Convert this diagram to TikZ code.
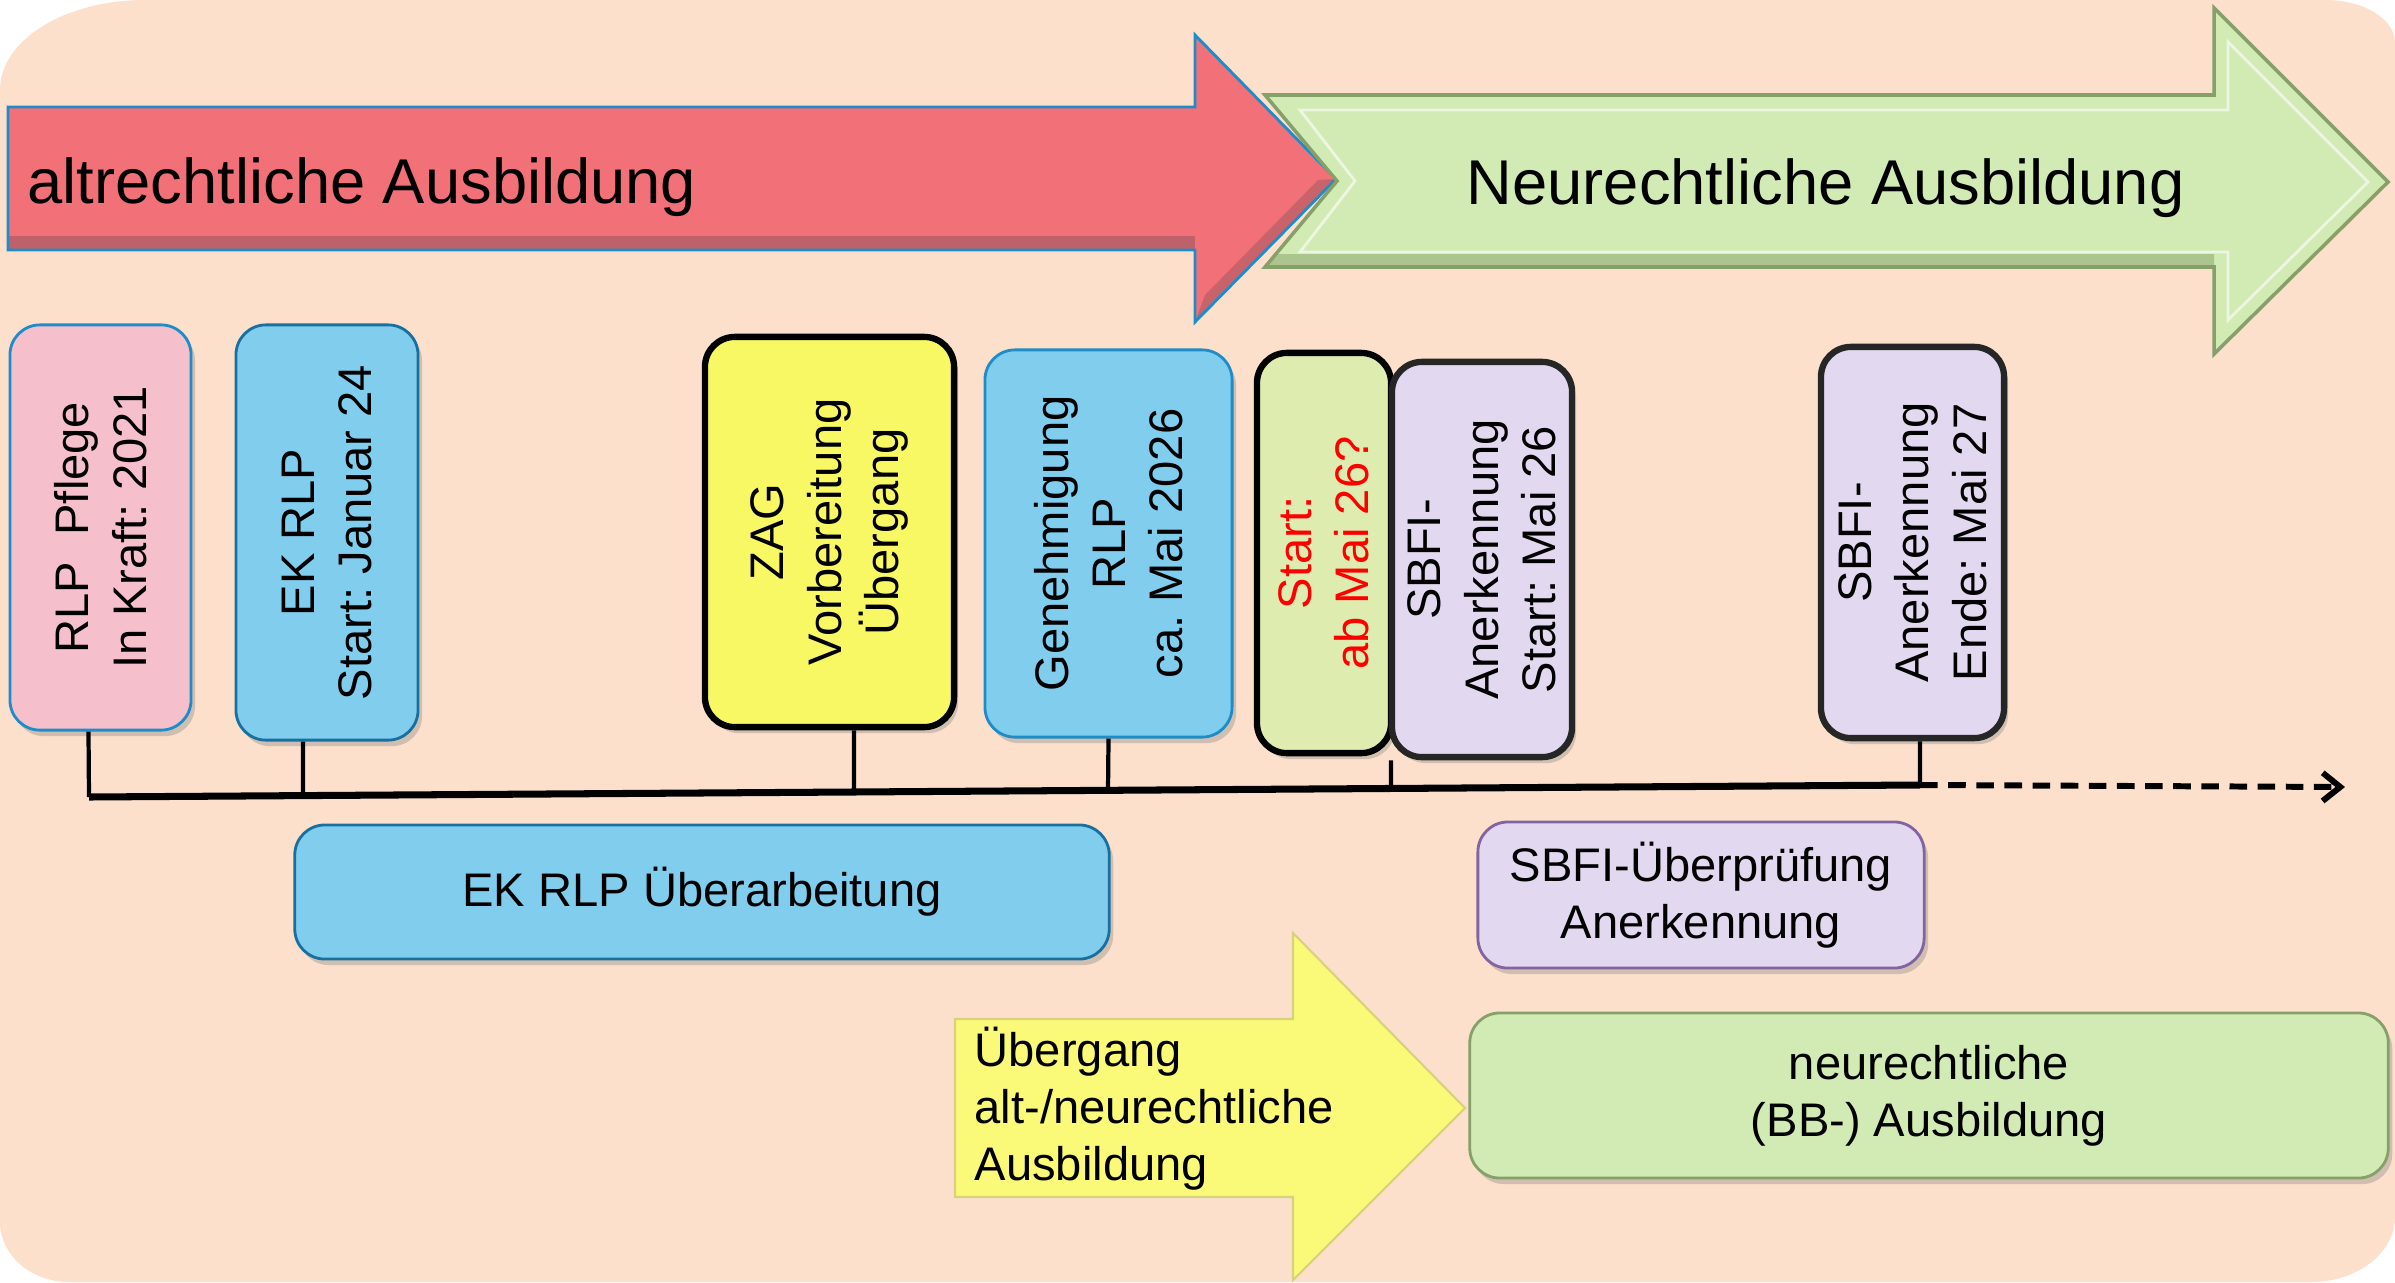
\documentclass[tikz,border=0pt]{standalone}
\usepackage{fontspec}
\setmainfont{Liberation Sans}
\usetikzlibrary{arrows.meta,shadows}
\frenchspacing

\definecolor{peach}{RGB}{252,224,204}
\definecolor{oldred}{RGB}{242,112,120}
\definecolor{oldredd}{RGB}{150,85,95}
\definecolor{newgreen}{RGB}{210,234,180}
\definecolor{newgreend}{RGB}{135,160,105}
\definecolor{boxpink}{RGB}{245,192,204}
\definecolor{boxblue}{RGB}{128,205,238}
\definecolor{boxyellow}{RGB}{248,248,100}
\definecolor{boxlime}{RGB}{222,236,176}
\definecolor{boxlila}{RGB}{226,216,240}
\definecolor{edgeblue}{RGB}{30,140,200}
\definecolor{edgelila}{RGB}{130,100,160}
\definecolor{arrowyellow}{RGB}{250,250,120}

\tikzset{
  txt/.style={font=\fontsize{13.4}{16.3}\selectfont},
  bigtxt/.style={font=\fontsize{18}{22}\selectfont, inner sep=0pt},
  bevel/.style={drop shadow={shadow xshift=0.04cm, shadow yshift=-0.06cm, opacity=0.35}},
  vbox/.style={txt, rectangle, rounded corners=0.3cm, rotate=90, align=center, inner sep=0pt, bevel},
  hbox/.style={txt, rectangle, rounded corners=0.3cm, align=center, inner sep=0pt, bevel},
  thinedge/.style={draw=#1, line width=0.8pt},
  thickedge/.style={draw=#1, line width=1.8pt},
  stem/.style={line width=1.2pt},
  timeline/.style={line width=2pt},
  dashline/.style={line width=1.7pt, dash pattern=on 5pt off 3pt, -{Straight Barb[length=5pt,width=8pt]}},
}

\begin{document}
\begin{tikzpicture}[x=0.01cm, y=-0.01cm]
  \useasboundingbox (0,0) rectangle (2395,1282);
  % background
  \fill[peach] (0,90) .. controls (0,40) and (65,0) .. (145,0) -- (2325,0)
    .. controls (2364,0) and (2395,19) .. (2395,43) -- (2395,1217)
    .. controls (2395,1253) and (2357,1282) .. (2311,1282) -- (69,1282)
    .. controls (31,1282) and (0,1255) .. (0,1222) -- cycle;

  % big arrows
  \fill[oldred] (8,107) -- (1195,107) -- (1195,35) -- (1336,179) -- (1195,322) -- (1195,250) -- (8,250) -- cycle;
  \fill[oldredd, opacity=0.55] (8,236) -- (1195,236) -- (1195,250) -- (8,250) -- cycle;
  \fill[oldredd, opacity=0.45] (1195,322) -- (1336,179) -- (1318,180) -- (1205,295) -- cycle;
  \draw[edgeblue, line width=0.8pt] (8,107) -- (1195,107) -- (1195,35) -- (1336,179) -- (1195,322) -- (1195,250) -- (8,250) -- cycle;
  \node[bigtxt, anchor=base west] (alt) at (27,203) {altrechtliche Ausbildung};

  \fill[newgreen] (1265,95) -- (2214,95) -- (2214,8) -- (2388,182) -- (2214,354) -- (2214,267) -- (1265,267) -- (1337,181) -- cycle;
  \fill[newgreend, opacity=0.5] (1275,254) -- (2214,254) -- (2214,267) -- (1265,267) -- cycle;
  \draw[white, opacity=0.6, line width=0.8pt] (1300,110) -- (2228,110) -- (2228,42) -- (2368,182) -- (2228,320) -- (2228,252) -- (1300,252) -- (1355,181) -- cycle;
  \draw[newgreend, line width=1pt] (1265,95) -- (2214,95) -- (2214,8) -- (2388,182) -- (2214,354) -- (2214,267) -- (1265,267) -- (1337,181) -- cycle;
  \node[bigtxt, anchor=base west] (neu) at (1466,205) {Neurechtliche Ausbildung};

  % milestones
  \node[vbox, fill=boxpink, thinedge=edgeblue, minimum width=4.05cm, minimum height=1.81cm] (rlp) at (100.5,527.5) {RLP\ \ Pflege\\In Kraft: 2021};
  \node[vbox, fill=boxblue, thinedge=edgeblue!80!black, minimum width=4.15cm, minimum height=1.82cm] (ekrlp) at (327,532.5) {EK RLP\\Start: Januar 24};
  \node[vbox, fill=boxyellow, thickedge=black, minimum width=3.90cm, minimum height=2.49cm] (zag) at (829.5,532) {ZAG\\Vorbereitung\\Übergang};
  \node[vbox, fill=boxblue, thinedge=edgeblue, minimum width=3.87cm, minimum height=2.47cm] (gen) at (1108.5,543.5) {Genehmigung\\RLP\\ca. Mai 2026};
  \node[vbox, fill=boxlime, thickedge=black, minimum width=4.00cm, minimum height=1.34cm, text=red] (start) at (1324,553) {Start:\\ab Mai 26?};
  \node[vbox, fill=boxlila, thickedge=black!85, minimum width=3.95cm, minimum height=1.80cm] (sbfa) at (1482,559.5) {SBFI-\\Anerkennung\\Start: Mai 26};
  \node[vbox, fill=boxlila, thickedge=black!85, minimum width=3.91cm, minimum height=1.83cm] (sbfe) at (1912.5,542.5) {SBFI-\\Anerkennung\\Ende: Mai 27};

  % time line
  \coordinate (p1) at (89,797);
  \coordinate (p2) at (303,796);
  \coordinate (p3) at (854,792);
  \coordinate (p4) at (1108,790);
  \coordinate (p5) at (1391,788);
  \coordinate (p6) at (1920,785);
  \coordinate (pend) at (2345,787);
  \draw[timeline] (p1) -- (p6);
  \draw[dashline] (p6) -- (pend);
  \draw[stem] ([xshift=-0.12cm]rlp.west) -- (p1);
  \draw[stem] ([xshift=-0.24cm]ekrlp.west) -- (p2);
  \draw[stem] ([xshift=0.245cm]zag.west) -- (p3);
  \draw[stem] (gen.west) -- (p4);
  \draw[stem] ([xshift=-0.91cm]sbfa.west) -- (p5);
  \draw[stem] ([xshift=0.075cm]sbfe.west) -- (p6);

  % phases
  \node[hbox, fill=boxblue, thinedge=edgeblue!80!black, minimum width=8.14cm, minimum height=1.34cm] (ekue) at (702,892) {EK RLP Überarbeitung};
  \node[hbox, fill=boxlila, thinedge=edgelila, minimum width=4.46cm, minimum height=1.46cm] (sbfu) at (1701,895) {SBFI-Überprüfung\\Anerkennung};

  \fill[arrowyellow] (955,1019) -- (1293,1019) -- (1293,933) -- (1465,1108) -- (1293,1280) -- (1293,1197) -- (955,1197) -- cycle;
  \draw[yellow!70!black!60, line width=0.6pt] (955,1019) -- (1293,1019) -- (1293,933) -- (1465,1108) -- (1293,1280) -- (1293,1197) -- (955,1197) -- cycle;
  \node[txt, anchor=north west, align=left, inner sep=0pt] (ueb) at (974,1026) {Übergang\\alt-/neurechtliche\\Ausbildung};

  \node[hbox, fill=newgreen, thinedge=newgreend, minimum width=9.18cm, minimum height=1.65cm] (nbb) at (1929,1095.5) {neurechtliche\\(BB-) Ausbildung};
\end{tikzpicture}
\end{document}
